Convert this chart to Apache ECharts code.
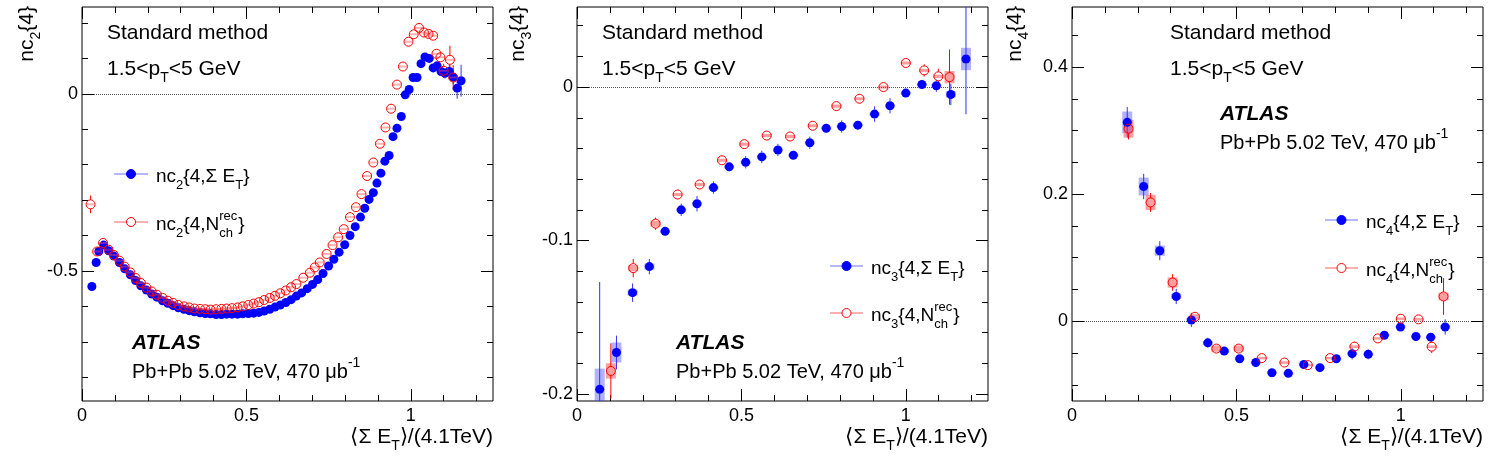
<!DOCTYPE html>
<html>
<head>
<meta charset="utf-8">
<script src="https://cdn.jsdelivr.net/npm/echarts@6/dist/echarts.min.js"></script>
<style>html,body{margin:0;padding:0;background:#fff}#chart{width:1500px;height:465px}</style>
</head>
<body>
<div id="chart"></div>
<script>
// ---- data ----
// panel 1: nc2{4}, points [x, y]
const p1Blue = [
  [0.030,-0.544],[0.043,-0.476],[0.051,-0.445],[0.066,-0.427],[0.081,-0.443],[0.097,-0.458],
  [0.114,-0.476],[0.130,-0.494],[0.147,-0.511],[0.163,-0.527],[0.179,-0.542],[0.196,-0.554],
  [0.212,-0.565],[0.228,-0.574],[0.245,-0.584],[0.261,-0.591],[0.277,-0.598],[0.293,-0.604],
  [0.310,-0.608],[0.326,-0.612],[0.342,-0.615],[0.359,-0.618],[0.375,-0.620],[0.391,-0.621],
  [0.408,-0.623],[0.424,-0.623],[0.440,-0.622],[0.456,-0.622],[0.473,-0.622],[0.489,-0.621],
  [0.506,-0.620],[0.522,-0.619],[0.538,-0.617],[0.554,-0.613],[0.571,-0.608],[0.587,-0.602],
  [0.603,-0.596],[0.620,-0.589],[0.636,-0.581],[0.652,-0.571],[0.668,-0.562],[0.685,-0.550],
  [0.701,-0.538],[0.717,-0.524],[0.733,-0.507],[0.750,-0.486],[0.766,-0.467],[0.782,-0.447],
  [0.799,-0.426],[0.815,-0.400],[0.831,-0.375],[0.847,-0.348],[0.860,-0.323],[0.873,-0.298],
  [0.886,-0.279],[0.897,-0.252],[0.909,-0.224],[0.921,-0.190],[0.934,-0.174],[0.946,-0.121],
  [0.958,-0.097],[0.971,-0.064],[0.983,-0.003],[0.995,0.012],[1.007,0.046],[1.019,0.046],
  [1.031,0.085],[1.043,0.104],[1.056,0.100],[1.068,0.073],[1.080,0.079],[1.092,0.063],
  [1.104,0.058],[1.117,0.063],[1.129,0.047],[1.141,0.016],[1.153,0.037]
];
const p1Red = [
  [0.026,-0.312],[0.046,-0.445],[0.064,-0.421],[0.081,-0.440],[0.097,-0.455],[0.114,-0.471],
  [0.130,-0.488],[0.147,-0.504],[0.163,-0.520],[0.179,-0.534],[0.196,-0.547],[0.212,-0.558],
  [0.228,-0.567],[0.245,-0.576],[0.261,-0.584],[0.277,-0.590],[0.293,-0.596],[0.310,-0.600],
  [0.326,-0.603],[0.342,-0.606],[0.359,-0.607],[0.375,-0.608],[0.391,-0.609],[0.408,-0.608],
  [0.424,-0.607],[0.440,-0.606],[0.456,-0.605],[0.473,-0.603],[0.489,-0.600],[0.506,-0.596],
  [0.522,-0.592],[0.538,-0.588],[0.554,-0.582],[0.571,-0.576],[0.587,-0.570],[0.603,-0.563],
  [0.620,-0.555],[0.636,-0.546],[0.652,-0.537],[0.673,-0.519],[0.693,-0.505],[0.708,-0.490],
  [0.723,-0.476],[0.744,-0.452],[0.762,-0.427],[0.779,-0.405],[0.796,-0.382],[0.815,-0.348],
  [0.833,-0.320],[0.850,-0.283],[0.867,-0.232],[0.886,-0.194],[0.906,-0.141],[0.923,-0.095],
  [0.940,-0.042],[0.958,0.026],[0.976,0.077],[0.993,0.147],[1.009,0.168],[1.025,0.186],
  [1.040,0.173],[1.054,0.169],[1.068,0.164],[1.078,0.113],[1.090,0.103],[1.100,0.065],
  [1.119,0.096],[1.129,0.046]
];
// visible error bars in panel 1: [x, y, stat, syst]
const p1BlueBars = [[0.030,-0.544,0.012,0],[1.019,0.046,0.008,0],[1.092,0.063,0.012,0],[1.104,0.058,0.015,0],
  [1.117,0.063,0.02,0],[1.129,0.047,0.02,0],[1.141,0.016,0.03,0],[1.153,0.037,0.045,0]];
const p1RedBars = [[0.026,-0.312,0.025,0],[1.100,0.065,0.02,0],[1.119,0.096,0.04,0],[1.129,0.046,0.035,0]];

// panel 2: nc3{4}, rows [x, y, stat, syst]
const p2Blue = [
  [0.069,-0.197,0.07,0.0135],[0.120,-0.173,0.011,0.0065],[0.169,-0.134,0.006,0.002],[0.220,-0.117,0.005,0.002],
  [0.268,-0.094,0.003,0.001],[0.317,-0.080,0.004,0.001],[0.365,-0.076,0.005,0.001],[0.415,-0.0655,0.004,0.001],
  [0.463,-0.052,0.003,0.001],[0.513,-0.049,0.004,0.001],[0.562,-0.0455,0.004,0.001],[0.611,-0.041,0.004,0.001],
  [0.658,-0.0444,0.003,0.001],[0.708,-0.0363,0.004,0.001],[0.758,-0.0268,0.003,0.001],[0.805,-0.0257,0.004,0.001],
  [0.854,-0.0248,0.003,0.001],[0.905,-0.0176,0.005,0.001],[0.952,-0.0122,0.005,0.001],[1.000,-0.0039,0.003,0.001],
  [1.049,0.0017,0.003,0.001],[1.093,0.0009,0.004,0.001],[1.137,-0.0048,0.007,0.002],[1.183,0.0183,0.036,0.0073]
];
const p2Red = [
  [0.103,-0.185,0.018,0.005],[0.171,-0.118,0.006,0.002],[0.239,-0.089,0.004,0.002],[0.306,-0.070,0.003,0.001],
  [0.373,-0.0635,0.003,0.001],[0.441,-0.0477,0.003,0.001],[0.509,-0.0372,0.003,0.001],[0.577,-0.0316,0.003,0.001],
  [0.648,-0.0322,0.003,0.001],[0.717,-0.0252,0.003,0.001],[0.789,-0.0124,0.003,0.001],[0.859,-0.0076,0.003,0.001],
  [0.932,0.0,0.003,0.001],[1.000,0.0157,0.003,0.001],[1.056,0.0109,0.004,0.001],[1.099,0.007,0.005,0.001],
  [1.133,0.0065,0.018,0.004]
];

// panel 3: nc4{4}, rows [x, y, stat, syst]
const p3Blue = [
  [0.168,0.313,0.024,0.017],[0.218,0.212,0.02,0.014],[0.267,0.111,0.015,0.008],[0.317,0.039,0.012,0.004],
  [0.363,0.002,0.011,0.003],[0.413,-0.034,0.008,0.003],[0.463,-0.047,0.006,0.003],[0.510,-0.059,0.006,0.002],
  [0.559,-0.065,0.006,0.002],[0.608,-0.081,0.006,0.002],[0.658,-0.082,0.007,0.002],[0.705,-0.068,0.006,0.002],
  [0.754,-0.073,0.006,0.002],[0.804,-0.059,0.006,0.002],[0.852,-0.051,0.009,0.002],[0.901,-0.052,0.008,0.002],
  [0.950,-0.022,0.005,0.002],[0.999,-0.009,0.007,0.002],[1.046,-0.024,0.007,0.002],[1.091,-0.025,0.007,0.002],
  [1.135,-0.009,0.012,0.003]
];
const p3Red = [
  [0.172,0.303,0.017,0.014],[0.239,0.187,0.015,0.012],[0.306,0.061,0.013,0.008],[0.374,0.007,0.006,0.004],
  [0.439,-0.043,0.005,0.005],[0.507,-0.043,0.005,0.005],[0.577,-0.058,0.004,0.002],[0.646,-0.065,0.004,0.002],
  [0.717,-0.069,0.004,0.002],[0.785,-0.058,0.004,0.002],[0.859,-0.040,0.008,0.002],[0.930,-0.027,0.004,0.002],
  [1.000,0.004,0.006,0.002],[1.054,0.003,0.007,0.002],[1.094,-0.040,0.01,0.002],[1.130,0.039,0.029,0.006]
];

// axes
const xRange = [0, 1.25];
const xMajor = [0, 0.5, 1];
const xMinor = [0.1, 0.2, 0.3, 0.4, 0.6, 0.7, 0.8, 0.9, 1.1, 1.2];
const yRanges = [[-0.867, 0.245], [-0.2046, 0.0522], [-0.1255, 0.4945]];
const yMajor = [[-0.5, 0], [-0.2, -0.1, 0], [0, 0.2, 0.4]];
const yMinor = [
  [-0.8, -0.7, -0.6, -0.4, -0.3, -0.2, -0.1, 0.1, 0.2],
  [-0.18, -0.16, -0.14, -0.12, -0.08, -0.06, -0.04, -0.02, 0.02, 0.04],
  [-0.1, -0.05, 0.05, 0.1, 0.15, 0.25, 0.3, 0.35, 0.45]
];
const zeroLineEnd = 1.21;
const harm = ['2', '3', '4'];

// ---- layout ----
const FONT = '"Liberation Sans", Arial, Helvetica, sans-serif';
const BLUE = '#0000ff', RED = '#ff0000';
const MARK = 9;
const gridLeft = [82, 577, 1072];
const gridTop = 7, gridW = 411, gridH = 394;

const chart = echarts.init(document.getElementById('chart'));

function richFor(fs) {
  const sf = Math.round(fs * 0.68);
  const off = Math.round(fs * 0.9);
  return {
    s: { fontSize: sf, fontFamily: FONT, fill: '#000', padding: [off, 0, 0, 0] },
    p: { fontSize: sf, fontFamily: FONT, fill: '#000', padding: [0, 0, off, 0] },
    p0: { fontSize: sf, fontFamily: FONT, fill: '#000', padding: [0, 0, off, 0], width: 0 },
    sw: { fontSize: sf, fontFamily: FONT, fill: '#000', padding: [off, 0, 0, 0], width: Math.round(sf * 1.45) }
  };
}

function txt(x, y, text, fs, align, extra) {
  const el = {
    type: 'text', x: x, y: y, silent: true, z: 100,
    style: { text: text, font: fs + 'px ' + FONT, fill: '#000', align: align || 'left', verticalAlign: 'middle', rich: richFor(fs) }
  };
  return Object.assign(el, extra || {});
}

function legendItem(x1, x2, y, color, lineColor, filled, label) {
  return [
    { type: 'line', silent: true, z: 100, shape: { x1: x1, y1: y, x2: x2, y2: y }, style: { stroke: lineColor, lineWidth: 1 } },
    { type: 'circle', silent: true, z: 101, shape: { cx: (x1 + x2) / 2, cy: y, r: MARK / 2 },
      style: { fill: filled ? color : '#fff', stroke: color, lineWidth: 1 } },
    txt(x2 + 8, y + 3, label, 19)
  ];
}

const grids = [], xAxes = [], yAxes = [];
gridLeft.forEach(function (l, i) {
  grids.push({ left: l, top: gridTop, width: gridW, height: gridH, show: true, borderColor: '#000', borderWidth: 1,
    backgroundColor: 'transparent', containLabel: false, outerBoundsMode: 'none' });
  [['bottom', 12, xMajor, true], ['bottom', 6, xMinor, false], ['top', 12, xMajor, false], ['top', 6, xMinor, false]]
    .forEach(function (a) {
      xAxes.push({
        type: 'value', gridIndex: i, position: a[0], min: xRange[0], max: xRange[1],
        axisLine: { show: false, onZero: false }, splitLine: { show: false },
        axisTick: { show: true, inside: true, length: a[1], customValues: a[2], lineStyle: { color: '#000', width: 1 } },
        axisLabel: { show: a[3], customValues: xMajor, fontSize: 18, fontFamily: FONT, color: '#000', margin: 6 }
      });
    });
  [['left', 12, yMajor[i], true], ['left', 6, yMinor[i], false], ['right', 12, yMajor[i], false], ['right', 6, yMinor[i], false]]
    .forEach(function (a) {
      yAxes.push({
        type: 'value', gridIndex: i, position: a[0], min: yRanges[i][0], max: yRanges[i][1],
        axisLine: { show: false, onZero: false }, splitLine: { show: false },
        axisTick: { show: true, inside: true, length: a[1], customValues: a[2], lineStyle: { color: '#000', width: 1 } },
        axisLabel: { show: a[3], customValues: yMajor[i], fontSize: 18, fontFamily: FONT, color: '#000', margin: 4 }
      });
    });
});

// stat error bar (kept outside the marker, ROOT style) and syst box
function barSeries(gi, rows, color, boxColor) {
  return {
    type: 'custom', xAxisIndex: gi * 4, yAxisIndex: gi * 4, clip: true, z: 1, silent: true,
    encode: { x: 0, y: 1 },
    data: rows,
    renderItem: function (params, api) {
      const x = api.value(0), y = api.value(1), e = api.value(2), s = api.value(3);
      const c = api.coord([x, y]);
      const kids = [];
      const gap = MARK / 2;
      if (s > 0) {
        const t = api.coord([x, y + s]), b = api.coord([x, y - s]);
        kids.push({ type: 'rect', shape: { x: c[0] - 5, y: t[1], width: 10, height: Math.max(b[1] - t[1], 1) }, style: { fill: boxColor } });
      }
      if (e > 0) {
        const t = api.coord([x, y + e]), b = api.coord([x, y - e]);
        if (c[1] - t[1] > gap) kids.push({ type: 'line', shape: { x1: c[0], y1: t[1], x2: c[0], y2: c[1] - gap }, style: { stroke: color, lineWidth: 1 } });
        if (b[1] - c[1] > gap) kids.push({ type: 'line', shape: { x1: c[0], y1: c[1] + gap, x2: c[0], y2: b[1] }, style: { stroke: color, lineWidth: 1 } });
      }
      return { type: 'group', children: kids };
    }
  };
}

function pts(rows) { return rows.map(function (r) { return [r[0], r[1]]; }); }

const series = [];
const panels = [
  { blue: pts(p1Blue), red: pts(p1Red), blueBars: p1BlueBars, redBars: p1RedBars, stripe: true },
  { blue: pts(p2Blue), red: pts(p2Red), blueBars: p2Blue, redBars: p2Red, stripe: false },
  { blue: pts(p3Blue), red: pts(p3Red), blueBars: p3Blue, redBars: p3Red, stripe: false }
];
panels.forEach(function (p, i) {
  series.push(barSeries(i, p.blueBars, '#3030ff', 'rgba(60,60,255,0.4)'));
  series.push(barSeries(i, p.redBars, RED, 'rgba(255,40,40,0.45)'));
  series.push({
    type: 'scatter', xAxisIndex: i * 4, yAxisIndex: i * 4, data: p.blue, symbol: 'circle', symbolSize: MARK, z: 3,
    itemStyle: { color: BLUE, opacity: 1 }, silent: true,
    markLine: { silent: true, symbol: 'none', label: { show: false }, z: 0,
      lineStyle: { type: 'dotted', color: '#555', width: 1 },
      data: [[{ coord: [0, 0] }, { coord: [zeroLineEnd, 0] }]] }
  });
  if (p.stripe) {
    series.push({ type: 'scatter', xAxisIndex: i * 4, yAxisIndex: i * 4, data: p.red, symbol: 'rect', symbolSize: [8, 2], z: 4,
      itemStyle: { color: 'rgba(255,80,80,0.55)' }, silent: true });
  }
  series.push({
    type: 'scatter', xAxisIndex: i * 4, yAxisIndex: i * 4, data: p.red, symbol: 'circle', symbolSize: MARK, z: 5,
    itemStyle: { color: 'rgba(255,255,255,0)', borderColor: RED, borderWidth: 1, opacity: 1 }, silent: true
  });
});

// ---- text and legends ----
const graphic = [];
gridLeft.forEach(function (l, i) {
  const r = l + gridW;
  const ox = [107, 602, 1170][i];
  graphic.push(txt(ox, 33, 'Standard method', 21));
  graphic.push(txt(ox, 69, '1.5<p{s|T}<5 GeV', 21));
  graphic.push(txt(r, 437, '⟨Σ E{s|T}⟩/(4.1TeV)', 21, 'right'));
  graphic.push(txt([27, 518, 1015][i], 6, 'nc{s|' + harm[i] + '}{4}', 21, 'right', { rotation: Math.PI / 2 }));
});
// ATLAS labels
[[132, 343, 372], [676, 343, 372], [1220, 114, 143]].forEach(function (a) {
  const at = txt(a[0], a[1], 'ATLAS', 21);
  at.style.font = 'italic bold 21px ' + FONT;
  graphic.push(at);
  graphic.push(txt(a[0], a[2], 'Pb+Pb 5.02 TeV, 470 μb{p|-1}', 20));
});
// legends
[[114, 148, 174, 222], [830, 863, 266, 313], [1325, 1358, 220, 268]].forEach(function (a, i) {
  legendItem(a[0], a[1], a[2], BLUE, '#7070ff', true, 'nc{s|' + harm[i] + '}{4,Σ E{s|T}}').forEach(function (g) { graphic.push(g); });
  legendItem(a[0], a[1], a[3], RED, '#ff6060', false, 'nc{s|' + harm[i] + '}{4,N{p0|rec}{sw|ch}}').forEach(function (g) { graphic.push(g); });
});

chart.setOption({
  animation: false,
  backgroundColor: '#fff',
  grid: grids,
  xAxis: xAxes,
  yAxis: yAxes,
  series: series,
  graphic: graphic
});
</script>
</body>
</html>
